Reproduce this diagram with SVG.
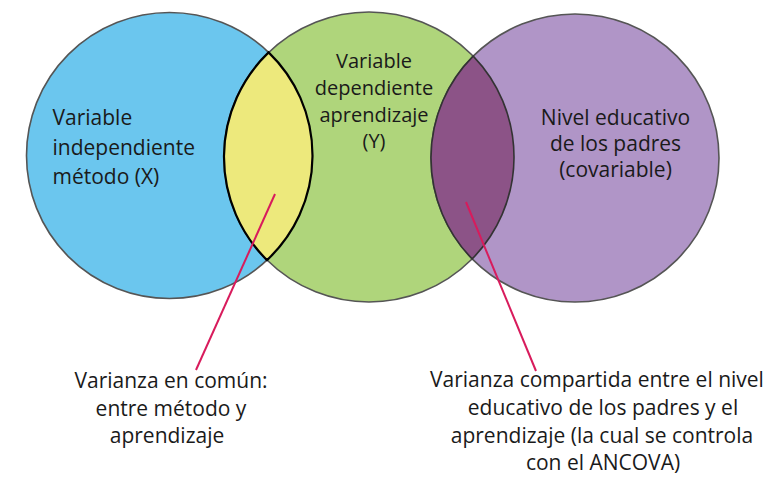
<svg xmlns="http://www.w3.org/2000/svg" width="779" height="479" viewBox="0 0 779 479">
<style>
.c{stroke:#555;stroke-width:1.6}
.t{font-family:"Open Sans","Noto Sans",sans-serif;font-size:21px;fill:#1a1a1a}
.m{text-anchor:middle}
.ln{stroke:#d81b5c;stroke-width:2;fill:none}
</style>
<rect width="779" height="479" fill="#fff"/>
<g id="blue"><circle class="c" cx="169.5" cy="155.5" r="143" fill="#6bc6ee"/></g>
<g id="green"><circle class="c" cx="369" cy="157" r="145" fill="#afd57b"/></g>
<g id="purple"><circle class="c" cx="575" cy="158" r="144" fill="#b095c7"/></g>
<g id="lens-xy"><path d="M268.6 52.4 A145 145 0 0 0 267 260.1 A143 143 0 0 0 268.6 52.4 Z" fill="#ede97c" stroke="#000" stroke-width="2.2"/></g>
<g id="lens-yc"><path d="M473.2 56.15 A144 144 0 0 0 472.2 258.85 A145 145 0 0 0 473.2 56.15 Z" fill="#8c5387" stroke="#333" stroke-width="1.6"/></g>
<g id="connectors">
<line class="ln" x1="275" y1="194" x2="196" y2="370"/>
<line class="ln" x1="466" y1="202" x2="536" y2="371"/>
</g>
<g id="label-x">
<text class="t" x="52.5" y="125">Variable</text>
<text class="t" x="52.5" y="155">independiente</text>
<text class="t" x="52.5" y="184">método (X)</text>
</g>
<g id="label-y">
<text class="t m" style="font-size:20px" x="374" y="68">Variable</text>
<text class="t m" style="font-size:20px" x="374" y="95">dependiente</text>
<text class="t m" style="font-size:20px" x="374" y="122">aprendizaje</text>
<text class="t m" style="font-size:20px" x="374" y="148">(Y)</text>
</g>
<g id="label-c">
<text class="t m" x="615.5" y="125">Nivel educativo</text>
<text class="t m" x="615.5" y="151">de los padres</text>
<text class="t m" x="615.5" y="177">(covariable)</text>
</g>
<g id="note-common">
<text class="t m" x="171" y="388">Varianza en común:</text>
<text class="t m" x="171" y="416">entre método y</text>
<text class="t m" x="167" y="443">aprendizaje</text>
</g>
<g id="note-shared">
<text class="t m" x="597" y="387">Varianza compartida entre el nivel</text>
<text class="t m" x="603" y="415">educativo de los padres y el</text>
<text class="t m" x="602" y="443">aprendizaje (la cual se controla</text>
<text class="t m" x="603" y="470">con el ANCOVA)</text>
</g>
</svg>
